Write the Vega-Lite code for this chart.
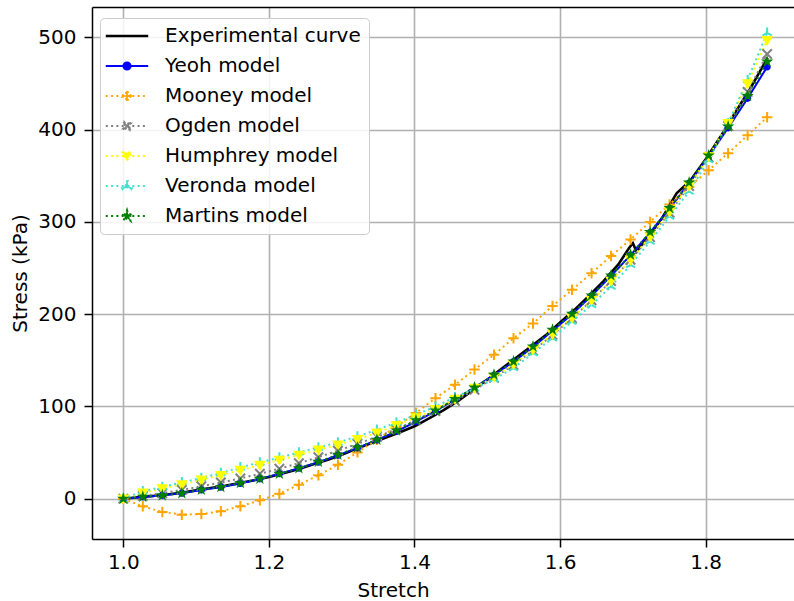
{
  "$schema": "https://vega.github.io/schema/vega-lite/v6.json",
  "width": 702,
  "height": 532,
  "autosize": {"type": "none"},
  "padding": {"left": 92, "top": 7, "right": 0, "bottom": 62},
  "background": "white",
  "config": {
    "view": {"stroke": null},
    "font": "DejaVu Sans",
    "axis": {
      "domainColor": "black", "domainWidth": 1.5,
      "tickColor": "black", "tickWidth": 1.5, "tickSize": 8,
      "labelFont": "DejaVu Sans", "labelFontSize": 20, "labelColor": "black",
      "titleFont": "DejaVu Sans", "titleFontSize": 20, "titleFontWeight": "normal", "titleColor": "black",
      "gridColor": "#b0b0b0", "gridWidth": 1.6, "gridOpacity": 1
    }
  },
  "datasets": {
    "exp": [
      {"model": "Experimental curve", "stretch": 1.00, "stress": 0},
      {"model": "Experimental curve", "stretch": 1.02, "stress": 1.5},
      {"model": "Experimental curve", "stretch": 1.04, "stress": 3},
      {"model": "Experimental curve", "stretch": 1.06, "stress": 4.5},
      {"model": "Experimental curve", "stretch": 1.08, "stress": 6.5},
      {"model": "Experimental curve", "stretch": 1.10, "stress": 9},
      {"model": "Experimental curve", "stretch": 1.12, "stress": 11.5},
      {"model": "Experimental curve", "stretch": 1.14, "stress": 14},
      {"model": "Experimental curve", "stretch": 1.16, "stress": 17},
      {"model": "Experimental curve", "stretch": 1.18, "stress": 20},
      {"model": "Experimental curve", "stretch": 1.20, "stress": 23.5},
      {"model": "Experimental curve", "stretch": 1.22, "stress": 27.5},
      {"model": "Experimental curve", "stretch": 1.24, "stress": 32},
      {"model": "Experimental curve", "stretch": 1.26, "stress": 37},
      {"model": "Experimental curve", "stretch": 1.28, "stress": 42},
      {"model": "Experimental curve", "stretch": 1.30, "stress": 47.5},
      {"model": "Experimental curve", "stretch": 1.32, "stress": 54},
      {"model": "Experimental curve", "stretch": 1.34, "stress": 60},
      {"model": "Experimental curve", "stretch": 1.36, "stress": 66},
      {"model": "Experimental curve", "stretch": 1.38, "stress": 72},
      {"model": "Experimental curve", "stretch": 1.40, "stress": 78.5},
      {"model": "Experimental curve", "stretch": 1.42, "stress": 87},
      {"model": "Experimental curve", "stretch": 1.44, "stress": 96},
      {"model": "Experimental curve", "stretch": 1.46, "stress": 106},
      {"model": "Experimental curve", "stretch": 1.48, "stress": 117.5},
      {"model": "Experimental curve", "stretch": 1.50, "stress": 129},
      {"model": "Experimental curve", "stretch": 1.52, "stress": 141},
      {"model": "Experimental curve", "stretch": 1.54, "stress": 153},
      {"model": "Experimental curve", "stretch": 1.56, "stress": 165},
      {"model": "Experimental curve", "stretch": 1.58, "stress": 177},
      {"model": "Experimental curve", "stretch": 1.60, "stress": 191},
      {"model": "Experimental curve", "stretch": 1.62, "stress": 205},
      {"model": "Experimental curve", "stretch": 1.64, "stress": 220},
      {"model": "Experimental curve", "stretch": 1.66, "stress": 236},
      {"model": "Experimental curve", "stretch": 1.68, "stress": 254},
      {"model": "Experimental curve", "stretch": 1.695, "stress": 272},
      {"model": "Experimental curve", "stretch": 1.70, "stress": 277},
      {"model": "Experimental curve", "stretch": 1.705, "stress": 268},
      {"model": "Experimental curve", "stretch": 1.72, "stress": 283},
      {"model": "Experimental curve", "stretch": 1.74, "stress": 304},
      {"model": "Experimental curve", "stretch": 1.76, "stress": 331},
      {"model": "Experimental curve", "stretch": 1.775, "stress": 342},
      {"model": "Experimental curve", "stretch": 1.78, "stress": 346},
      {"model": "Experimental curve", "stretch": 1.80, "stress": 368},
      {"model": "Experimental curve", "stretch": 1.82, "stress": 392},
      {"model": "Experimental curve", "stretch": 1.84, "stress": 418},
      {"model": "Experimental curve", "stretch": 1.86, "stress": 443},
      {"model": "Experimental curve", "stretch": 1.885, "stress": 478}
    ],
    "models": [
      {"model": "Yeoh model", "stretch": 1.0, "stress": 0},
      {"model": "Yeoh model", "stretch": 1.0268, "stress": 1.8},
      {"model": "Yeoh model", "stretch": 1.0536, "stress": 3.6},
      {"model": "Yeoh model", "stretch": 1.0804, "stress": 6},
      {"model": "Yeoh model", "stretch": 1.1072, "stress": 9.5},
      {"model": "Yeoh model", "stretch": 1.134, "stress": 12.5},
      {"model": "Yeoh model", "stretch": 1.1608, "stress": 16.5},
      {"model": "Yeoh model", "stretch": 1.1876, "stress": 21.5},
      {"model": "Yeoh model", "stretch": 1.2144, "stress": 27},
      {"model": "Yeoh model", "stretch": 1.2412, "stress": 33},
      {"model": "Yeoh model", "stretch": 1.268, "stress": 39.5},
      {"model": "Yeoh model", "stretch": 1.2948, "stress": 47},
      {"model": "Yeoh model", "stretch": 1.3216, "stress": 55},
      {"model": "Yeoh model", "stretch": 1.3484, "stress": 63.5},
      {"model": "Yeoh model", "stretch": 1.3752, "stress": 73},
      {"model": "Yeoh model", "stretch": 1.402, "stress": 83.5},
      {"model": "Yeoh model", "stretch": 1.4288, "stress": 95},
      {"model": "Yeoh model", "stretch": 1.4556, "stress": 107.5},
      {"model": "Yeoh model", "stretch": 1.4824, "stress": 120.5},
      {"model": "Yeoh model", "stretch": 1.5092, "stress": 134},
      {"model": "Yeoh model", "stretch": 1.536, "stress": 148.5},
      {"model": "Yeoh model", "stretch": 1.5628, "stress": 164.5},
      {"model": "Yeoh model", "stretch": 1.5896, "stress": 182},
      {"model": "Yeoh model", "stretch": 1.6164, "stress": 200},
      {"model": "Yeoh model", "stretch": 1.6432, "stress": 220},
      {"model": "Yeoh model", "stretch": 1.67, "stress": 241.5},
      {"model": "Yeoh model", "stretch": 1.6968, "stress": 264},
      {"model": "Yeoh model", "stretch": 1.7236, "stress": 288.5},
      {"model": "Yeoh model", "stretch": 1.7504, "stress": 314.5},
      {"model": "Yeoh model", "stretch": 1.7772, "stress": 342},
      {"model": "Yeoh model", "stretch": 1.804, "stress": 371},
      {"model": "Yeoh model", "stretch": 1.8308, "stress": 402},
      {"model": "Yeoh model", "stretch": 1.8576, "stress": 434},
      {"model": "Yeoh model", "stretch": 1.8844, "stress": 468},
      {"model": "Mooney model", "stretch": 1.0, "stress": 0},
      {"model": "Mooney model", "stretch": 1.0268, "stress": -8.3},
      {"model": "Mooney model", "stretch": 1.0536, "stress": -14.4},
      {"model": "Mooney model", "stretch": 1.0804, "stress": -17.3},
      {"model": "Mooney model", "stretch": 1.1072, "stress": -16.6},
      {"model": "Mooney model", "stretch": 1.134, "stress": -13.7},
      {"model": "Mooney model", "stretch": 1.1608, "stress": -8.3},
      {"model": "Mooney model", "stretch": 1.1876, "stress": -1.8},
      {"model": "Mooney model", "stretch": 1.2144, "stress": 5.4},
      {"model": "Mooney model", "stretch": 1.2412, "stress": 15.2},
      {"model": "Mooney model", "stretch": 1.268, "stress": 25.3},
      {"model": "Mooney model", "stretch": 1.2948, "stress": 36.8},
      {"model": "Mooney model", "stretch": 1.3216, "stress": 50.2},
      {"model": "Mooney model", "stretch": 1.3484, "stress": 64},
      {"model": "Mooney model", "stretch": 1.3752, "stress": 78.3},
      {"model": "Mooney model", "stretch": 1.402, "stress": 92.8},
      {"model": "Mooney model", "stretch": 1.4288, "stress": 109},
      {"model": "Mooney model", "stretch": 1.4556, "stress": 123.5},
      {"model": "Mooney model", "stretch": 1.4824, "stress": 140},
      {"model": "Mooney model", "stretch": 1.5092, "stress": 156},
      {"model": "Mooney model", "stretch": 1.536, "stress": 174},
      {"model": "Mooney model", "stretch": 1.5628, "stress": 190},
      {"model": "Mooney model", "stretch": 1.5896, "stress": 209},
      {"model": "Mooney model", "stretch": 1.6164, "stress": 226.4},
      {"model": "Mooney model", "stretch": 1.6432, "stress": 244.5},
      {"model": "Mooney model", "stretch": 1.67, "stress": 263},
      {"model": "Mooney model", "stretch": 1.6968, "stress": 281},
      {"model": "Mooney model", "stretch": 1.7236, "stress": 300},
      {"model": "Mooney model", "stretch": 1.7504, "stress": 319},
      {"model": "Mooney model", "stretch": 1.7772, "stress": 338},
      {"model": "Mooney model", "stretch": 1.804, "stress": 356},
      {"model": "Mooney model", "stretch": 1.8308, "stress": 374.5},
      {"model": "Mooney model", "stretch": 1.8576, "stress": 394},
      {"model": "Mooney model", "stretch": 1.8844, "stress": 413.5},
      {"model": "Ogden model", "stretch": 1.0, "stress": 0},
      {"model": "Ogden model", "stretch": 1.0268, "stress": 3},
      {"model": "Ogden model", "stretch": 1.0536, "stress": 6},
      {"model": "Ogden model", "stretch": 1.0804, "stress": 9.5},
      {"model": "Ogden model", "stretch": 1.1072, "stress": 13.5},
      {"model": "Ogden model", "stretch": 1.134, "stress": 17.5},
      {"model": "Ogden model", "stretch": 1.1608, "stress": 22},
      {"model": "Ogden model", "stretch": 1.1876, "stress": 27},
      {"model": "Ogden model", "stretch": 1.2144, "stress": 32.5},
      {"model": "Ogden model", "stretch": 1.2412, "stress": 38.5},
      {"model": "Ogden model", "stretch": 1.268, "stress": 45},
      {"model": "Ogden model", "stretch": 1.2948, "stress": 52},
      {"model": "Ogden model", "stretch": 1.3216, "stress": 59.5},
      {"model": "Ogden model", "stretch": 1.3484, "stress": 67},
      {"model": "Ogden model", "stretch": 1.3752, "stress": 75.5},
      {"model": "Ogden model", "stretch": 1.402, "stress": 85},
      {"model": "Ogden model", "stretch": 1.4288, "stress": 95},
      {"model": "Ogden model", "stretch": 1.4556, "stress": 106},
      {"model": "Ogden model", "stretch": 1.4824, "stress": 118},
      {"model": "Ogden model", "stretch": 1.5092, "stress": 131},
      {"model": "Ogden model", "stretch": 1.536, "stress": 145},
      {"model": "Ogden model", "stretch": 1.5628, "stress": 160.5},
      {"model": "Ogden model", "stretch": 1.5896, "stress": 177.5},
      {"model": "Ogden model", "stretch": 1.6164, "stress": 195.5},
      {"model": "Ogden model", "stretch": 1.6432, "stress": 215},
      {"model": "Ogden model", "stretch": 1.67, "stress": 236},
      {"model": "Ogden model", "stretch": 1.6968, "stress": 259},
      {"model": "Ogden model", "stretch": 1.7236, "stress": 283.5},
      {"model": "Ogden model", "stretch": 1.7504, "stress": 310},
      {"model": "Ogden model", "stretch": 1.7772, "stress": 339},
      {"model": "Ogden model", "stretch": 1.804, "stress": 370},
      {"model": "Ogden model", "stretch": 1.8308, "stress": 404},
      {"model": "Ogden model", "stretch": 1.8576, "stress": 441},
      {"model": "Ogden model", "stretch": 1.8844, "stress": 482},
      {"model": "Humphrey model", "stretch": 1.0, "stress": 0},
      {"model": "Humphrey model", "stretch": 1.0268, "stress": 6.5},
      {"model": "Humphrey model", "stretch": 1.0536, "stress": 11},
      {"model": "Humphrey model", "stretch": 1.0804, "stress": 15.5},
      {"model": "Humphrey model", "stretch": 1.1072, "stress": 20.5},
      {"model": "Humphrey model", "stretch": 1.134, "stress": 25.5},
      {"model": "Humphrey model", "stretch": 1.1608, "stress": 31},
      {"model": "Humphrey model", "stretch": 1.1876, "stress": 36.5},
      {"model": "Humphrey model", "stretch": 1.2144, "stress": 42},
      {"model": "Humphrey model", "stretch": 1.2412, "stress": 47.5},
      {"model": "Humphrey model", "stretch": 1.268, "stress": 53},
      {"model": "Humphrey model", "stretch": 1.2948, "stress": 58.5},
      {"model": "Humphrey model", "stretch": 1.3216, "stress": 64.5},
      {"model": "Humphrey model", "stretch": 1.3484, "stress": 71.5},
      {"model": "Humphrey model", "stretch": 1.3752, "stress": 79.5},
      {"model": "Humphrey model", "stretch": 1.402, "stress": 88},
      {"model": "Humphrey model", "stretch": 1.4288, "stress": 97},
      {"model": "Humphrey model", "stretch": 1.4556, "stress": 108},
      {"model": "Humphrey model", "stretch": 1.4824, "stress": 120},
      {"model": "Humphrey model", "stretch": 1.5092, "stress": 132},
      {"model": "Humphrey model", "stretch": 1.536, "stress": 145.5},
      {"model": "Humphrey model", "stretch": 1.5628, "stress": 161.5},
      {"model": "Humphrey model", "stretch": 1.5896, "stress": 178.5},
      {"model": "Humphrey model", "stretch": 1.6164, "stress": 196},
      {"model": "Humphrey model", "stretch": 1.6432, "stress": 215},
      {"model": "Humphrey model", "stretch": 1.67, "stress": 236},
      {"model": "Humphrey model", "stretch": 1.6968, "stress": 259},
      {"model": "Humphrey model", "stretch": 1.7236, "stress": 284},
      {"model": "Humphrey model", "stretch": 1.7504, "stress": 311},
      {"model": "Humphrey model", "stretch": 1.7772, "stress": 339},
      {"model": "Humphrey model", "stretch": 1.804, "stress": 371},
      {"model": "Humphrey model", "stretch": 1.8308, "stress": 407},
      {"model": "Humphrey model", "stretch": 1.8576, "stress": 450},
      {"model": "Humphrey model", "stretch": 1.8844, "stress": 497},
      {"model": "Veronda model", "stretch": 1.0, "stress": 0},
      {"model": "Veronda model", "stretch": 1.0268, "stress": 8},
      {"model": "Veronda model", "stretch": 1.0536, "stress": 12.7},
      {"model": "Veronda model", "stretch": 1.0804, "stress": 17.7},
      {"model": "Veronda model", "stretch": 1.1072, "stress": 22.4},
      {"model": "Veronda model", "stretch": 1.134, "stress": 27.8},
      {"model": "Veronda model", "stretch": 1.1608, "stress": 34},
      {"model": "Veronda model", "stretch": 1.1876, "stress": 39.3},
      {"model": "Veronda model", "stretch": 1.2144, "stress": 44.7},
      {"model": "Veronda model", "stretch": 1.2412, "stress": 50.2},
      {"model": "Veronda model", "stretch": 1.268, "stress": 55.6},
      {"model": "Veronda model", "stretch": 1.2948, "stress": 61},
      {"model": "Veronda model", "stretch": 1.3216, "stress": 67.5},
      {"model": "Veronda model", "stretch": 1.3484, "stress": 74.8},
      {"model": "Veronda model", "stretch": 1.3752, "stress": 82.5},
      {"model": "Veronda model", "stretch": 1.402, "stress": 91},
      {"model": "Veronda model", "stretch": 1.4288, "stress": 100},
      {"model": "Veronda model", "stretch": 1.4556, "stress": 110},
      {"model": "Veronda model", "stretch": 1.4824, "stress": 119.5},
      {"model": "Veronda model", "stretch": 1.5092, "stress": 129.5},
      {"model": "Veronda model", "stretch": 1.536, "stress": 141.6},
      {"model": "Veronda model", "stretch": 1.5628, "stress": 157.8},
      {"model": "Veronda model", "stretch": 1.5896, "stress": 174},
      {"model": "Veronda model", "stretch": 1.6164, "stress": 192},
      {"model": "Veronda model", "stretch": 1.6432, "stress": 210},
      {"model": "Veronda model", "stretch": 1.67, "stress": 230},
      {"model": "Veronda model", "stretch": 1.6968, "stress": 253.5},
      {"model": "Veronda model", "stretch": 1.7236, "stress": 278.8},
      {"model": "Veronda model", "stretch": 1.7504, "stress": 305.9},
      {"model": "Veronda model", "stretch": 1.7772, "stress": 333},
      {"model": "Veronda model", "stretch": 1.804, "stress": 367},
      {"model": "Veronda model", "stretch": 1.8308, "stress": 407},
      {"model": "Veronda model", "stretch": 1.8576, "stress": 454},
      {"model": "Veronda model", "stretch": 1.8844, "stress": 505},
      {"model": "Martins model", "stretch": 1.0, "stress": 0},
      {"model": "Martins model", "stretch": 1.0268, "stress": 2},
      {"model": "Martins model", "stretch": 1.0536, "stress": 3.6},
      {"model": "Martins model", "stretch": 1.0804, "stress": 6},
      {"model": "Martins model", "stretch": 1.1072, "stress": 9.8},
      {"model": "Martins model", "stretch": 1.134, "stress": 12.6},
      {"model": "Martins model", "stretch": 1.1608, "stress": 17},
      {"model": "Martins model", "stretch": 1.1876, "stress": 21.7},
      {"model": "Martins model", "stretch": 1.2144, "stress": 27},
      {"model": "Martins model", "stretch": 1.2412, "stress": 33},
      {"model": "Martins model", "stretch": 1.268, "stress": 40},
      {"model": "Martins model", "stretch": 1.2948, "stress": 47.7},
      {"model": "Martins model", "stretch": 1.3216, "stress": 55.6},
      {"model": "Martins model", "stretch": 1.3484, "stress": 64},
      {"model": "Martins model", "stretch": 1.3752, "stress": 74},
      {"model": "Martins model", "stretch": 1.402, "stress": 85},
      {"model": "Martins model", "stretch": 1.4288, "stress": 95.7},
      {"model": "Martins model", "stretch": 1.4556, "stress": 108},
      {"model": "Martins model", "stretch": 1.4824, "stress": 120.5},
      {"model": "Martins model", "stretch": 1.5092, "stress": 134.3},
      {"model": "Martins model", "stretch": 1.536, "stress": 148.8},
      {"model": "Martins model", "stretch": 1.5628, "stress": 165},
      {"model": "Martins model", "stretch": 1.5896, "stress": 183},
      {"model": "Martins model", "stretch": 1.6164, "stress": 200.4},
      {"model": "Martins model", "stretch": 1.6432, "stress": 220.3},
      {"model": "Martins model", "stretch": 1.67, "stress": 242},
      {"model": "Martins model", "stretch": 1.6968, "stress": 264.4},
      {"model": "Martins model", "stretch": 1.7236, "stress": 289},
      {"model": "Martins model", "stretch": 1.7504, "stress": 315},
      {"model": "Martins model", "stretch": 1.7772, "stress": 342.7},
      {"model": "Martins model", "stretch": 1.804, "stress": 372},
      {"model": "Martins model", "stretch": 1.8308, "stress": 403.4},
      {"model": "Martins model", "stretch": 1.8576, "stress": 436.6},
      {"model": "Martins model", "stretch": 1.8844, "stress": 473.8}
    ]
  },
  "encoding": {
    "y": {
      "field": "stress", "type": "quantitative",
      "scale": {"domain": [-43.7, 533], "nice": false, "zero": false},
      "axis": {"title": "Stress (kPa)", "values": [0, 100, 200, 300, 400, 500], "grid": true, "labelPadding": 8, "titlePadding": 7}
    },
    "color": {
      "field": "model", "type": "nominal",
      "scale": {
        "domain": ["Experimental curve", "Yeoh model", "Mooney model", "Ogden model", "Humphrey model", "Veronda model", "Martins model"],
        "range": ["black", "#0000ff", "#ffa500", "#808080", "#ffff00", "#40e0d0", "#008000"]
      },
      "legend": {
        "title": null,
        "orient": "none", "legendX": 8, "legendY": 11,
        "labelFont": "DejaVu Sans", "labelFontSize": 20, "labelColor": "black", "labelLimit": 400,
        "symbolSize": 1800, "symbolOffset": 9, "labelOffset": 28, "rowPadding": 10,
        "padding": 8, "fillColor": "rgba(255,255,255,0.85)", "strokeColor": "#cccccc", "cornerRadius": 4,
        "symbolStrokeWidth": 2,
        "encode": {
          "symbols": {
            "update": {
              "shape": {"signal": "{'Experimental curve':'M-1,0H1','Yeoh model':'M-1,0H1M0.17,0A0.17,0.17,0,1,1,-0.17,0A0.17,0.17,0,1,1,0.17,0Z','Mooney model':'M-1,0H1M-0.24,-0.04H-0.04V-0.24H0.04V-0.04H0.24V0.04H0.04V0.24H-0.04V0.04H-0.24Z','Ogden model':'M-1,0H1M-0.1485,-0.2051L0,-0.0566L0.1485,-0.2051L0.2051,-0.1485L0.0566,0L0.2051,0.1485L0.1485,0.2051L0,0.0566L-0.1485,0.2051L-0.2051,0.1485L-0.0566,0L-0.2051,-0.1485Z','Humphrey model':'M-1,0H1M-0.21,-0.16H0.21L0,0.21Z','Veronda model':'M-1,0H1M-0.04,0V-0.24H0.04V0ZM0.02,-0.0346L0.2365,0.0904L0.1965,0.1596L-0.02,0.0346ZM0.02,0.0346L-0.1965,0.1596L-0.2365,0.0904L-0.02,-0.0346Z','Martins model':'M-1,0H1M0,-0.28L0.0629,-0.0865L0.2663,-0.0865L0.1016,0.033L0.1646,0.2265L0,0.107L-0.1646,0.2265L-0.1016,0.033L-0.2663,-0.0865L-0.0629,-0.0865Z'}[datum.value]"},
              "fill": {"scale": "color", "field": "value"},
              "stroke": {"scale": "color", "field": "value"},
              "fillOpacity": {"value": 1},
              "strokeOpacity": {"value": 1},
              "opacity": {"value": 1},
              "size": {"value": 1800},
              "strokeWidth": {"signal": "datum.value === 'Experimental curve' ? 2.5 : 2"},
              "strokeDash": {"signal": "datum.value === 'Experimental curve' || datum.value === 'Yeoh model' ? null : [2, 3.3]"}
            }
          }
        }
      }
    }
  },
  "resolve": {"axis": {"x": "independent"}},
  "layer": [
    {
      "data": {"name": "exp"},
      "mark": {"type": "line", "strokeWidth": 2.6},
      "encoding": {
        "x": {
          "field": "stretch", "type": "quantitative",
          "scale": {"domain": [0.957, 1.9213], "nice": false, "zero": false},
          "axis": {"orient": "top", "labels": false, "ticks": false, "grid": false, "title": null}
        }
      }
    },
    {
      "data": {"name": "models"},
      "mark": {"type": "line", "strokeWidth": 2},
      "encoding": {
        "x": {
          "field": "stretch", "type": "quantitative",
          "scale": {"domain": [0.957, 1.9213], "nice": false, "zero": false},
          "axis": {"title": "Stretch", "values": [1.0, 1.2, 1.4, 1.6, 1.8], "format": ".1f", "grid": true, "labelPadding": 5, "titlePadding": 8, "titleX": 301}
        },
        "strokeDash": {
          "field": "model", "type": "nominal",
          "scale": {
            "domain": ["Yeoh model", "Mooney model", "Ogden model", "Humphrey model", "Veronda model", "Martins model"],
            "range": [[1, 0], [2, 3.3], [2, 3.3], [2, 3.3], [2, 3.3], [2, 3.3]]
          },
          "legend": null
        }
      }
    },
    {
      "data": {"name": "models"},
      "transform": [{"filter": "datum.model === 'Mooney model' || datum.model === 'Ogden model' || datum.model === 'Veronda model'"}],
      "mark": {"type": "point", "filled": false, "size": 110, "strokeWidth": 2, "opacity": 1},
      "encoding": {
        "x": {"field": "stretch", "type": "quantitative", "scale": {"domain": [0.957, 1.9213], "nice": false, "zero": false}, "axis": null},
        "shape": {
          "field": "model", "type": "nominal",
          "scale": {
            "domain": ["Yeoh model", "Mooney model", "Ogden model", "Humphrey model", "Veronda model", "Martins model"],
            "range": [
              "M0.55,0A0.55,0.55,0,1,1,-0.55,0A0.55,0.55,0,1,1,0.55,0Z",
              "M-1,0H1M0,-1V1",
              "M-0.9,-0.9L0.9,0.9M-0.9,0.9L0.9,-0.9",
              "M-0.9,-0.65H0.9L0,0.9Z",
              "M0,0V-1M0,0L-0.866,0.5M0,0L0.866,0.5",
              "M0,-1L0.2245,-0.309L0.951,-0.309L0.363,0.118L0.588,0.809L0,0.382L-0.588,0.809L-0.363,0.118L-0.951,-0.309L-0.2245,-0.309Z"
            ]
          },
          "legend": null
        }
      }
    },
    {
      "data": {"name": "models"},
      "transform": [{"filter": "datum.model === 'Yeoh model' || datum.model === 'Humphrey model' || datum.model === 'Martins model'"}],
      "mark": {"type": "point", "filled": true, "size": 170, "opacity": 1},
      "encoding": {
        "x": {"field": "stretch", "type": "quantitative", "scale": {"domain": [0.957, 1.9213], "nice": false, "zero": false}, "axis": null},
        "shape": {
          "field": "model", "type": "nominal",
          "scale": {
            "domain": ["Yeoh model", "Mooney model", "Ogden model", "Humphrey model", "Veronda model", "Martins model"],
            "range": [
              "M0.55,0A0.55,0.55,0,1,1,-0.55,0A0.55,0.55,0,1,1,0.55,0Z",
              "M-1,0H1M0,-1V1",
              "M-0.9,-0.9L0.9,0.9M-0.9,0.9L0.9,-0.9",
              "M-0.9,-0.65H0.9L0,0.9Z",
              "M0,0V-1M0,0L-0.866,0.5M0,0L0.866,0.5",
              "M0,-1L0.2245,-0.309L0.951,-0.309L0.363,0.118L0.588,0.809L0,0.382L-0.588,0.809L-0.363,0.118L-0.951,-0.309L-0.2245,-0.309Z"
            ]
          },
          "legend": null
        }
      }
    }
  ]
}
